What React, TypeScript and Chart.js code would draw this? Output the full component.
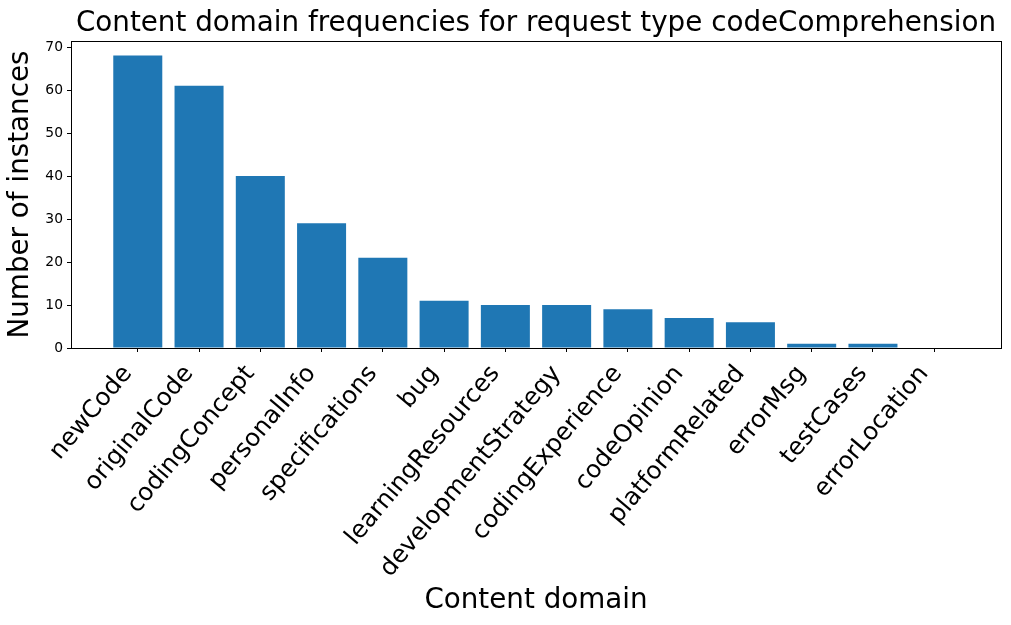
import { useEffect, useRef } from 'react';
import { Chart, registerables } from 'chart.js';

Chart.register(...registerables);

const categories = [
  'newCode', 'originalCode', 'codingConcept', 'personalInfo', 'specifications', 'bug',
  'learningResources', 'developmentStrategy', 'codingExperience', 'codeOpinion',
  'platformRelated', 'errorMsg', 'testCases', 'errorLocation',
];
const counts = [68, 61, 40, 29, 21, 11, 10, 10, 9, 7, 6, 1, 1, 0];
const yTickValues = [0, 10, 20, 30, 40, 50, 60, 70];
const chartTitle = 'Content domain frequencies for request type codeComprehension';

const FONT = "'DejaVu Sans', sans-serif";
const W = 1011;
const H = 625;

const framePlugin = {
  id: 'frame',
  afterDraw(chart: any) {
    const { ctx, chartArea } = chart;
    ctx.save();
    ctx.strokeStyle = '#000';
    ctx.lineWidth = 1;
    ctx.strokeRect(
      Math.round(chartArea.left) + 0.5,
      Math.round(chartArea.top) + 0.5,
      Math.round(chartArea.right - chartArea.left),
      Math.round(chartArea.bottom - chartArea.top)
    );
    ctx.fillStyle = '#000';
    ctx.font = `27.78px ${FONT}`;
    ctx.textAlign = 'center';
    ctx.textBaseline = 'alphabetic';
    ctx.fillText(chartTitle, (chartArea.left + chartArea.right) / 2, 30.5);
    ctx.restore();
  },
};

export default function App() {
  const ref = useRef<HTMLCanvasElement | null>(null);

  useEffect(() => {
    if (!ref.current) return;
    const chart = new Chart(ref.current, {
      type: 'bar',
      data: {
        datasets: [
          {
            data: counts.map((v, i) => ({ x: i, y: v })),
            backgroundColor: '#1f77b4',
            borderWidth: 0,
            inflateAmount: 0,
            barPercentage: 0.8,
            categoryPercentage: 1,
          },
        ],
      },
      plugins: [framePlugin],
      options: {
        responsive: false,
        animation: false,
        layout: { padding: { left: 0, right: 10, top: 41, bottom: 0 }, autoPadding: false },
        plugins: {
          legend: { display: false },
          tooltip: { enabled: false },
          title: { display: false },
        },
        scales: {
          x: {
            type: 'linear',
            min: -1.09,
            max: 14.09,
            offset: false,
            afterBuildTicks: (s: any) => {
              s.ticks = categories.map((_, i) => ({ value: i }));
            },
            afterFit: (s: any) => {
              s.height = H - 348;
            },
            ticks: {
              autoSkip: false,
              maxRotation: 50,
              minRotation: 50,
              color: '#000',
              font: { family: FONT, size: 24.5 },
              padding: 8,
              labelOffset: -10,
              callback: (v: any) => categories[v] ?? '',
            },
            grid: { drawOnChartArea: false, drawTicks: true, tickLength: 4, color: '#000', offset: false },
            border: { display: true, color: '#000', width: 1 },
            title: {
              display: true,
              text: 'Content domain',
              color: '#000',
              font: { family: FONT, size: 27.78 },
              padding: { top: 0, bottom: 8 },
            },
          },
          y: {
            type: 'linear',
            min: 0,
            max: 71.4,
            afterBuildTicks: (s: any) => {
              s.ticks = yTickValues.map((v) => ({ value: v }));
            },
            afterFit: (s: any) => {
              s.width = 71;
            },
            ticks: {
              color: '#000',
              font: { family: FONT, size: 13.89 },
              padding: 4,
            },
            grid: { drawOnChartArea: false, drawTicks: true, tickLength: 4, color: '#000' },
            border: { display: true, color: '#000', width: 1 },
            title: {
              display: true,
              text: 'Number of instances',
              color: '#000',
              font: { family: FONT, size: 27.78 },
              padding: { top: 4, bottom: 0 },
            },
          },
        },
      } as any,
    });
    return () => chart.destroy();
  }, []);

  return (
    <div style={{ position: 'absolute', left: 0, top: 0, width: W, height: H, background: '#fff' }}>
      <canvas ref={ref} width={W} height={H} style={{ width: W, height: H, display: 'block' }} />
    </div>
  );
}
